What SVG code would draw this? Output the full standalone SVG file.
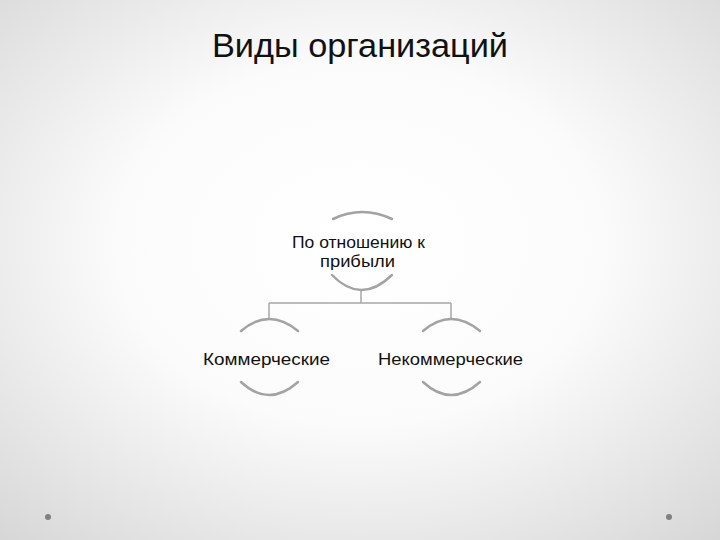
<svg xmlns="http://www.w3.org/2000/svg" width="720" height="540" viewBox="0 0 720 540">
<defs>
<radialGradient id="bg" cx="50%" cy="45%" r="75%">
<stop offset="0" stop-color="#ffffff"/>
<stop offset="0.45" stop-color="#fbfbfb"/>
<stop offset="1" stop-color="#d6d6d6"/>
</radialGradient>
<style>
.arc{fill:none;stroke:#a3a3a3;stroke-width:2.5;stroke-linecap:round}
.con{fill:none;stroke:#a6a6a6;stroke-width:1.5}
.lbl{font-family:"Liberation Sans","DejaVu Sans",sans-serif;font-size:16px;fill:#111111;text-anchor:middle}
.title{font-family:"Liberation Sans","DejaVu Sans",sans-serif;font-size:34px;fill:#111111;text-anchor:middle}
.dot{fill:#808080}
</style>
</defs>
<rect width="720" height="540" fill="url(#bg)"/>
<text class="title" x="360" y="57" textLength="296" lengthAdjust="spacingAndGlyphs">Виды организаций</text>
<g id="connectors">
<path class="con" d="M361,290 V303 M269,303 H451 M269,303 V319 M451,303 V319"/>
</g>
<g id="node-root">
<path class="arc" d="M333,219 Q362,205 392,219"/>
<path class="arc" d="M332,275 Q361,305 392,275"/>
<text class="lbl" x="358.5" y="248" textLength="133" lengthAdjust="spacingAndGlyphs">По отношению к</text>
<text class="lbl" x="357.5" y="267" textLength="75" lengthAdjust="spacingAndGlyphs">прибыли</text>
</g>
<g id="node-commercial">
<path class="arc" d="M241,331 Q269,307 298,331"/>
<path class="arc" d="M241,382 Q269,408 298,382"/>
<text class="lbl" x="266.5" y="365" textLength="127" lengthAdjust="spacingAndGlyphs">Коммерческие</text>
</g>
<g id="node-noncommercial">
<path class="arc" d="M423,331 Q451,307 480,331"/>
<path class="arc" d="M423,382 Q451,408 480,382"/>
<text class="lbl" x="450.5" y="365" textLength="145" lengthAdjust="spacingAndGlyphs">Некоммерческие</text>
</g>
<circle class="dot" cx="48" cy="517" r="3"/>
<circle class="dot" cx="669" cy="517" r="3"/>
</svg>
